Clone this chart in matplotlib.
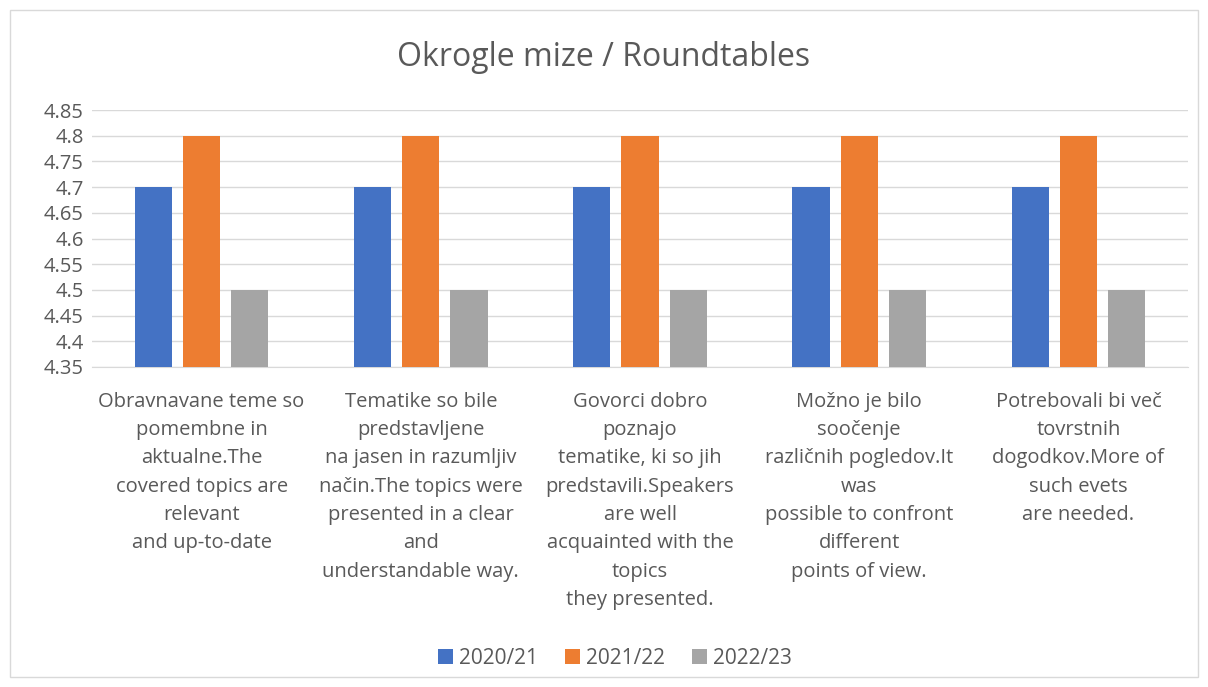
import matplotlib
matplotlib.use("Agg")
import matplotlib.pyplot as plt
import numpy as np
from matplotlib.patches import Rectangle

categories = [
    "Obravnavane teme so\npomembne in\naktualne.The\ncovered topics are\nrelevant\nand up-to-date",
    "Tematike so bile\npredstavljene\nna jasen in razumljiv\nnačin.The topics were\npresented in a clear\nand\nunderstandable way.",
    "Govorci dobro\npoznajo\ntematike, ki so jih\npredstavili.Speakers\nare well\nacquainted with the\ntopics\nthey presented.",
    "Možno je bilo\nsoočenje\nrazličnih pogledov.It\nwas\npossible to confront\ndifferent\npoints of view.",
    "Potrebovali bi več\ntovrstnih\ndogodkov.More of\nsuch evets\nare needed.",
]
series_names = ["2020/21", "2021/22", "2022/23"]
values_2020 = [4.7, 4.7, 4.7, 4.7, 4.7]
values_2021 = [4.8, 4.8, 4.8, 4.8, 4.8]
values_2022 = [4.5, 4.5, 4.5, 4.5, 4.5]
colors = ["#4472C4", "#ED7D31", "#A5A5A5"]
yticks = [4.35, 4.4, 4.45, 4.5, 4.55, 4.6, 4.65, 4.7, 4.75, 4.8, 4.85]
ytick_labels = ["4.35", "4.4", "4.45", "4.5", "4.55", "4.6", "4.65", "4.7", "4.75", "4.8", "4.85"]

plt.rcParams['font.family'] = ['Open Sans', 'DejaVu Sans']
txt = "#595959"

fig = plt.figure(figsize=(12.08, 6.87), dpi=100)
fig.patches.append(Rectangle((10/1208, 10/687), 1188/1208, 667/687, transform=fig.transFigure,
                             fill=False, edgecolor="#d9d9d9", linewidth=1))
ax = fig.add_axes([92/1208, 1 - 367/687, (1188 - 92)/1208, (367 - 110)/687])

x = np.arange(len(categories))
w = 0.17
step = 0.22
for i, (vals, name) in enumerate(zip([values_2020, values_2021, values_2022], series_names)):
    ax.bar(x + (i - 1) * step, np.array(vals) - 4.35, bottom=4.35, width=w,
           color=colors[i], label=name, zorder=3)

ax.set_xlim(-0.5, len(categories) - 0.5)
ax.set_ylim(4.35, 4.85)
ax.set_yticks(yticks)
ax.set_yticklabels(ytick_labels, fontsize=14.5, color=txt)
ax.yaxis.grid(True, color="#d9d9d9", linewidth=1, zorder=0)
ax.set_xticks(x)
ax.set_xticklabels(categories, fontsize=14.5, color=txt, linespacing=1.55, ha="center", va="top")
ax.tick_params(axis="both", length=0)
ax.tick_params(axis="x", pad=18)
ax.tick_params(axis="y", pad=6)
for s in ["top", "right", "left"]:
    ax.spines[s].set_visible(False)
ax.spines["bottom"].set_color("#d9d9d9")

fig.text(0.5, 1 - 57/687, "Okrogle mize / Roundtables", ha="center", va="center",
         fontsize=23, color=txt)

handles, labels = ax.get_legend_handles_labels()
fig.legend(handles, labels, loc="center", bbox_to_anchor=(615/1208, 1 - 658/687), ncol=3,
           frameon=False, fontsize=15, labelcolor=txt, handlelength=0.7, handleheight=0.7,
           handletextpad=0.3, columnspacing=1.3)

fig.savefig("out.png", dpi=100)
